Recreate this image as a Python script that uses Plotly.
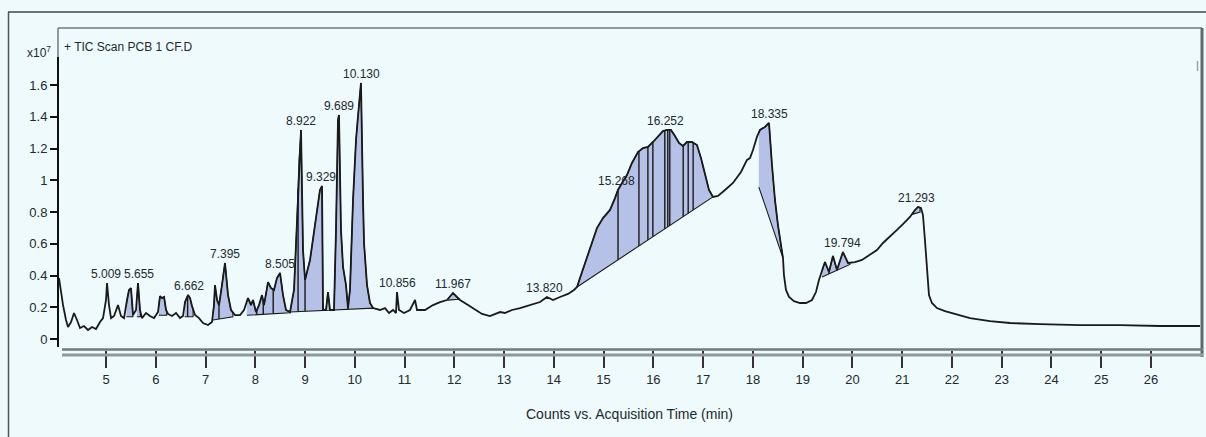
import numpy as np
import plotly.graph_objects as go

# ---------------- data ----------------
time_min = [4.055, 4.096, 4.136, 4.196, 4.236, 4.297, 4.357, 4.417, 4.477, 4.558, 4.638, 4.719, 4.799, 4.879, 4.940,
            5.000, 5.020, 5.060, 5.101, 5.161, 5.241, 5.301, 5.362, 5.422, 5.462, 5.502, 5.543, 5.603, 5.643, 5.683,
            5.723, 5.804, 5.884, 5.965, 6.045, 6.085, 6.126, 6.166, 6.206, 6.246, 6.326, 6.407, 6.487, 6.547, 6.588,
            6.648, 6.688, 6.728, 6.789, 6.869, 6.949, 7.050, 7.130, 7.170, 7.190, 7.231, 7.271, 7.331, 7.391, 7.452,
            7.512, 7.592, 7.693, 7.773, 7.854, 7.914, 7.954, 8.014, 8.075, 8.135, 8.175, 8.256, 8.316, 8.376, 8.436,
            8.497, 8.557, 8.617, 8.698, 8.778, 8.839, 8.879, 8.919, 8.959, 9.000, 9.100, 9.200, 9.300, 9.341, 9.361,
            9.421, 9.461, 9.501, 9.582, 9.622, 9.662, 9.682, 9.722, 9.763, 9.823, 9.863, 9.903, 9.964, 10.024, 10.084,
            10.124, 10.165, 10.185, 10.245, 10.305, 10.366, 10.506, 10.607, 10.687, 10.768, 10.828, 10.848, 10.888,
            10.989, 11.109, 11.210, 11.250, 11.411, 11.572, 11.712, 11.853, 11.973, 12.114, 12.275, 12.416, 12.556,
            12.717, 12.918, 13.018, 13.159, 13.320, 13.521, 13.722, 13.862, 13.983, 14.124, 14.285, 14.405, 14.466,
            14.566, 14.666, 14.767, 14.867, 14.988, 15.129, 15.229, 15.289, 15.370, 15.470, 15.570, 15.691, 15.791,
            15.892, 15.992, 16.093, 16.193, 16.273, 16.354, 16.434, 16.515, 16.595, 16.675, 16.776, 16.876, 16.957,
            17.037, 17.118, 17.198, 17.299, 17.440, 17.600, 17.761, 17.882, 17.942, 18.002, 18.082, 18.143, 18.243,
            18.324, 18.384, 18.444, 18.504, 18.565, 18.605, 18.625, 18.665, 18.726, 18.826, 18.947, 19.067, 19.188,
            19.268, 19.328, 19.388, 19.449, 19.529, 19.609, 19.690, 19.810, 19.911, 20.052, 20.193, 20.353, 20.494,
            20.615, 20.755, 20.896, 21.016, 21.157, 21.258, 21.318, 21.378, 21.418, 21.458, 21.498, 21.539, 21.599,
            21.699, 21.860, 22.061, 22.363, 22.765, 23.167, 23.770, 24.574, 25.378, 26.182, 26.985]

counts_e7 = [0.384, 0.296, 0.214, 0.120, 0.076, 0.107, 0.164, 0.120, 0.069, 0.082, 0.057, 0.076, 0.063, 0.107, 0.132,
             0.246, 0.353, 0.214, 0.132, 0.145, 0.214, 0.145, 0.132, 0.246, 0.309, 0.321, 0.151, 0.183, 0.353, 0.183,
             0.132, 0.164, 0.145, 0.132, 0.170, 0.271, 0.258, 0.265, 0.183, 0.158, 0.145, 0.164, 0.132, 0.145, 0.233,
             0.277, 0.258, 0.208, 0.151, 0.132, 0.101, 0.088, 0.107, 0.214, 0.340, 0.246, 0.214, 0.340, 0.479, 0.277,
             0.183, 0.151, 0.151, 0.183, 0.258, 0.214, 0.246, 0.170, 0.214, 0.277, 0.214, 0.359, 0.321, 0.309, 0.384,
             0.416, 0.277, 0.183, 0.170, 0.309, 0.750, 1.128, 1.317, 0.561, 0.372, 0.498, 0.718, 0.939, 0.964, 0.183,
             0.183, 0.296, 0.183, 0.183, 0.687, 1.380, 1.411, 0.687, 0.454, 0.340, 0.195, 0.309, 0.876, 1.254, 1.474,
             1.613, 0.876, 0.605, 0.340, 0.227, 0.195, 0.183, 0.195, 0.164, 0.183, 0.164, 0.296, 0.183,
             0.164, 0.183, 0.246, 0.183, 0.183, 0.214, 0.233, 0.246, 0.290, 0.246, 0.214, 0.183, 0.158,
             0.145, 0.170, 0.164, 0.183, 0.195, 0.214, 0.233, 0.265, 0.246, 0.265, 0.284, 0.309, 0.328,
             0.422, 0.517, 0.611, 0.699, 0.762, 0.813, 0.888, 0.939, 0.983, 1.033, 1.109, 1.178, 1.203,
             1.210, 1.241, 1.273, 1.310, 1.317, 1.317, 1.279, 1.235, 1.216, 1.241, 1.241, 1.222, 1.140,
             1.033, 0.939, 0.895, 0.901, 0.939, 0.983, 1.052, 1.128, 1.140, 1.191, 1.273, 1.317, 1.336,
             1.361, 1.096, 0.876, 0.718, 0.592, 0.510, 0.403, 0.309, 0.265, 0.239, 0.227, 0.227, 0.246,
             0.296, 0.372, 0.435, 0.485, 0.422, 0.523, 0.435, 0.548, 0.479, 0.485, 0.498, 0.529, 0.561,
             0.605, 0.643, 0.687, 0.724, 0.769, 0.813, 0.832, 0.825, 0.781, 0.624, 0.435, 0.277, 0.227,
             0.195, 0.176, 0.158, 0.132, 0.113, 0.101, 0.094, 0.088, 0.088, 0.082, 0.082]

# integrated regions: start / end time and baseline value at start / end
region_start = [5.41, 5.62, 6.06, 6.58, 7.15, 7.83, 8.70, 11.87, 14.466, 18.12, 19.39, 21.20]
region_end = [5.54, 5.69, 6.22, 6.75, 7.55, 8.70, 10.37, 12.10, 17.198, 18.605, 19.95, 21.36]
region_base_start = [0.14, 0.14, 0.15, 0.14, 0.12, 0.150, 0.170, 0.245, 0.328, 0.957, 0.39, 0.785]
region_base_end = [0.14, 0.14, 0.15, 0.14, 0.14, 0.165, 0.195, 0.250, 0.895, 0.510, 0.47, 0.800]

# peak-split drop lines
divider_times = [6.64, 7.27, 8.03, 8.16, 8.36, 8.86, 9.00, 9.36, 9.86,
                 15.29, 15.71, 15.89, 15.99, 16.23, 16.29, 16.33, 16.60, 16.70, 16.80, 19.53, 19.69]

peak_labels = ["5.009", "5.655", "6.662", "7.395", "8.505", "8.922", "9.329", "9.689", "10.130", "10.856",
               "11.967", "13.820", "15.268", "16.252", "18.335", "19.794", "21.293"]
peak_rt = [float(s) for s in peak_labels]

x_tick_vals = list(range(5, 27))
y_tick_vals = [0, 0.2, 0.4, 0.6, 0.8, 1.0, 1.2, 1.4, 1.6]
y_tick_text = ["0", "0.2", "0.4", "0.6", "0.8", "1", "1.2", "1.4", "1.6"]

title_text = "+ TIC Scan PCB 1 CF.D"
x_title = "Counts vs. Acquisition Time (min)"

# ---------------- styling ----------------
BG = "#eefafc"
FILL = "#b6c1e7"
LINE = "#1a1a1a"
TXT = "#23292d"
FONT = "Liberation Sans, Arial, sans-serif"

T = np.array(time_min)
V = np.array(counts_e7)


def curve_at(t):
    return float(np.interp(t, T, V))


fig = go.Figure()

# filled integration areas
for t0, t1, b0, b1 in zip(region_start, region_end, region_base_start, region_base_end):
    inside = (T > t0) & (T < t1)
    xs = [t0] + list(T[inside]) + [t1, t1, t0]
    ys = [curve_at(t0)] + list(V[inside]) + [curve_at(t1), b1, b0]
    fig.add_trace(go.Scatter(x=xs, y=ys, mode="lines", fill="toself", fillcolor=FILL,
                             line=dict(color=LINE, width=1.1), hoverinfo="skip", showlegend=False))

# drop lines
dx, dy = [], []
for d in divider_times:
    for t0, t1, b0, b1 in zip(region_start, region_end, region_base_start, region_base_end):
        if t0 <= d <= t1:
            base = b0 + (b1 - b0) * (d - t0) / (t1 - t0)
            dx += [d, d, None]
            dy += [curve_at(d), base, None]
            break
fig.add_trace(go.Scatter(x=dx, y=dy, mode="lines", line=dict(color=LINE, width=1.4),
                         hoverinfo="skip", showlegend=False))

# chromatogram
fig.add_trace(go.Scatter(x=time_min, y=counts_e7, mode="lines", line=dict(color=LINE, width=1.8),
                         showlegend=False))

# peak labels
annotations = []
for lab, rt in zip(peak_labels, peak_rt):
    m = (T >= rt - 0.07) & (T <= rt + 0.07)
    top = float(V[m].max()) if m.any() else curve_at(rt)
    annotations.append(dict(x=rt, y=top, xref="x", yref="y", text=lab, showarrow=False,
                            xanchor="center", yanchor="bottom", yshift=0,
                            font=dict(family=FONT, size=12, color=TXT)))

# plot area geometry in pixels
W, H = 1206, 437
L, R, TOP, BOT = 58, 1201, 28, 350
pw, ph = R - L, BOT - TOP


def px(x):
    return (x - L) / pw


def py(y):
    return (BOT - y) / ph


annotations += [
    dict(x=px(62), y=py(47), xref="paper", yref="paper", text=title_text, showarrow=False,
         xanchor="left", yanchor="middle", font=dict(family=FONT, size=12, color=TXT)),
    dict(x=px(53), y=py(52), xref="paper", yref="paper", text="x10<sup>7</sup>", showarrow=False,
         xanchor="right", yanchor="middle", font=dict(family=FONT, size=12, color=TXT)),
    dict(x=0.5, y=py(414), xref="paper", yref="paper", text=x_title, showarrow=False,
         xanchor="center", yanchor="middle", font=dict(family=FONT, size=14, color=TXT)),
    dict(x=px(1197), y=py(65), xref="paper", yref="paper", text="|", showarrow=False,
         xanchor="center", yanchor="middle", font=dict(family=FONT, size=11, color="#777")),
]

shapes = [
    # outer frame
    dict(type="line", xref="paper", yref="paper", x0=px(8), x1=px(1206), y0=py(12), y1=py(12),
         line=dict(color="#444", width=1.5)),
    dict(type="line", xref="paper", yref="paper", x0=px(8.5), x1=px(8.5), y0=py(12), y1=py(437),
         line=dict(color="#555", width=1.5)),
    # inner frame
    dict(type="line", xref="paper", yref="paper", x0=px(58), x1=px(1202), y0=py(28), y1=py(28),
         line=dict(color="#8e9a9e", width=2)),
    dict(type="line", xref="paper", yref="paper", x0=px(1202), x1=px(1202), y0=py(28), y1=py(357),
         line=dict(color="#5f6a6d", width=3)),
    dict(type="line", xref="paper", yref="paper", x0=px(58), x1=px(58), y0=py(28), y1=py(57),
         line=dict(color="#8e9a9e", width=2)),
    dict(type="line", xref="paper", yref="paper", x0=px(58), x1=px(58), y0=py(57), y1=py(347),
         line=dict(color="#111", width=2)),
    # bottom double band
    dict(type="line", xref="paper", yref="paper", x0=px(62), x1=px(1203), y0=py(349.5), y1=py(349.5),
         line=dict(color="#6f7b7e", width=2.5)),
    dict(type="line", xref="paper", yref="paper", x0=px(62), x1=px(1203), y0=py(355), y1=py(355),
         line=dict(color="#8d999c", width=3)),
]

fig.update_layout(
    width=W, height=H,
    margin=dict(l=L, r=W - R, t=TOP, b=H - BOT),
    paper_bgcolor=BG, plot_bgcolor=BG,
    annotations=annotations, shapes=shapes,
    showlegend=False,
    xaxis=dict(range=[4.035, 27.006], tickvals=x_tick_vals, ticks="outside", ticklen=17, tickwidth=1.5,
               tickcolor="#333", showgrid=False, zeroline=False, showline=False,
               tickfont=dict(family=FONT, size=13, color=TXT)),
    yaxis=dict(range=[-0.069, 1.959], tickvals=y_tick_vals, ticktext=y_tick_text, ticks="outside",
               ticklen=7, tickwidth=1.5, tickcolor="#111", showgrid=False, zeroline=False, showline=False,
               tickfont=dict(family=FONT, size=13, color=TXT)),
)

fig.write_html("out.html")
